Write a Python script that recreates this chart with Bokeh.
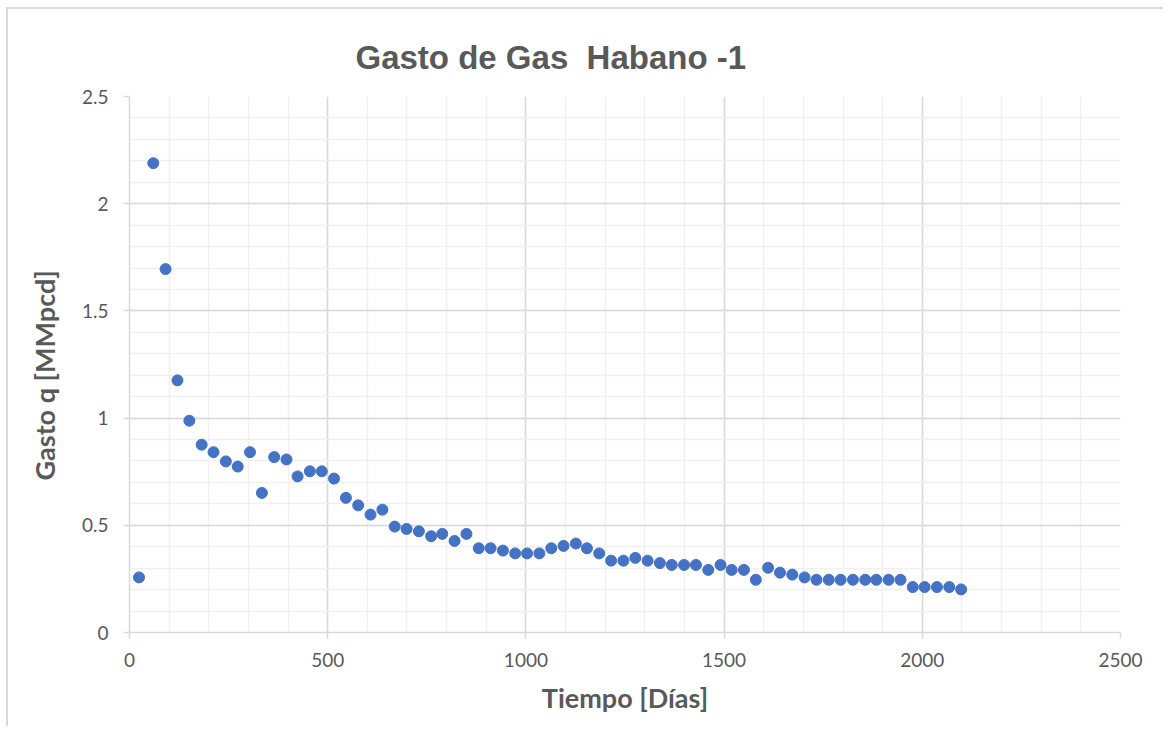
from bokeh.plotting import figure
from bokeh.models import Range1d, FixedTicker, CustomJSTickFormatter, Title, ColumnDataSource
from bokeh.embed import file_html
from bokeh.resources import INLINE

# ---- data ----
tiempo = [24, 60, 91, 121, 151, 182, 212, 243, 273, 304, 334, 365, 396, 424,
          455, 485, 516, 546, 577, 608, 638, 669, 699, 730, 761, 789, 820, 850,
          881, 911, 942, 973, 1003, 1034, 1064, 1095, 1126, 1154, 1185, 1215,
          1246, 1276, 1307, 1338, 1368, 1399, 1429, 1460, 1491, 1519, 1550,
          1580, 1611, 1641, 1672, 1703, 1733, 1764, 1794, 1825, 1856, 1884,
          1915, 1945, 1976, 2006, 2037, 2068, 2098]
gasto = [0.257, 2.189, 1.695, 1.176, 0.988, 0.876, 0.841, 0.798, 0.774, 0.841,
         0.651, 0.818, 0.807, 0.728, 0.752, 0.752, 0.718, 0.628, 0.593, 0.550,
         0.573, 0.494, 0.483, 0.472, 0.449, 0.460, 0.427, 0.460, 0.393, 0.393,
         0.382, 0.369, 0.369, 0.369, 0.393, 0.404, 0.415, 0.393, 0.369, 0.335,
         0.335, 0.348, 0.335, 0.324, 0.315, 0.315, 0.315, 0.292, 0.315, 0.292,
         0.292, 0.246, 0.302, 0.279, 0.270, 0.257, 0.246, 0.246, 0.246, 0.246,
         0.246, 0.246, 0.246, 0.246, 0.212, 0.212, 0.212, 0.212, 0.201]
x_ticks = [0, 500, 1000, 1500, 2000, 2500]
y_ticks = [0, 0.5, 1, 1.5, 2, 2.5]
titulo = "Gasto de Gas\u00a0 Habano -1"
x_label = "Tiempo [Días]"
y_label = "Gasto q [MMpcd]"

GRAY_TXT = "#595959"
GRID_MAJ = "#d9d9d9"
GRID_MIN = "#f0f0f0"
BLUE = "#4472C4"

W, H = 1163, 726
p = figure(width=W, height=H, output_backend="svg", toolbar_location=None,
           x_range=Range1d(0, 2500), y_range=Range1d(0, 2.5),
           min_border_left=129, min_border_right=W - 1120,
           min_border_top=96, min_border_bottom=H - 632,
           title=titulo)
p.styles = {"background": "linear-gradient(#d9d9d9, #d9d9d9) 6px 7px / 2px calc(100% - 7px) no-repeat, "
                          "linear-gradient(#d9d9d9, #d9d9d9) 6px 7px / calc(100% - 6px) 2px no-repeat, #ffffff"}
p.outline_line_color = None
p.background_fill_color = "white"
p.border_fill_color = None

p.title.align = "left"
p.title.offset = 226
p.title.text_font = "Liberation Sans"
p.title.text_font_size = "33px"
p.title.text_font_style = "bold"
p.title.text_color = GRAY_TXT
p.title.standoff = 42

src = ColumnDataSource(dict(t=tiempo, q=gasto))
p.scatter("t", "q", source=src, size=11, fill_color=BLUE, line_color=BLUE)

x_minor = list(range(0, 2501, 100))
y_minor = [i / 10 for i in range(0, 26)]
p.xaxis.ticker = FixedTicker(ticks=x_ticks, minor_ticks=x_minor)
p.yaxis.ticker = FixedTicker(ticks=y_ticks, minor_ticks=y_minor)
p.xaxis.formatter = CustomJSTickFormatter(code="return String(tick);")
p.yaxis.formatter = CustomJSTickFormatter(code="return String(tick);")

for ax in (p.xaxis[0], p.yaxis[0]):
    ax.axis_line_color = GRID_MAJ
    ax.axis_line_width = 1.5
    ax.major_tick_line_color = GRID_MAJ
    ax.major_tick_line_width = 1.5
    ax.major_tick_out = 6
    ax.major_tick_in = 0
    ax.minor_tick_line_color = None
    ax.major_label_text_font = "Lato"
    ax.major_label_text_font_size = "19px"
    ax.major_label_text_color = GRAY_TXT
p.xaxis.major_label_standoff = 14
p.yaxis.major_label_standoff = 15

p.xaxis.axis_label = x_label
p.xaxis.axis_label_text_font = "Lato"
p.xaxis.axis_label_text_font_size = "27px"
p.xaxis.axis_label_text_font_style = "bold"
p.xaxis.axis_label_text_color = GRAY_TXT
p.xaxis.axis_label_standoff = 11

for g in (p.xgrid[0], p.ygrid[0]):
    g.grid_line_color = GRID_MAJ
    g.grid_line_width = 1.5
    g.minor_grid_line_color = GRID_MIN
    g.minor_grid_line_width = 1.5

yt = Title(text=y_label, align="left", offset=152, text_font="Lato",
           text_font_size="27px", text_font_style="bold", text_color=GRAY_TXT,
           standoff=36)
p.add_layout(yt, "left")

open("out.html", "w").write(file_html(p, INLINE))
